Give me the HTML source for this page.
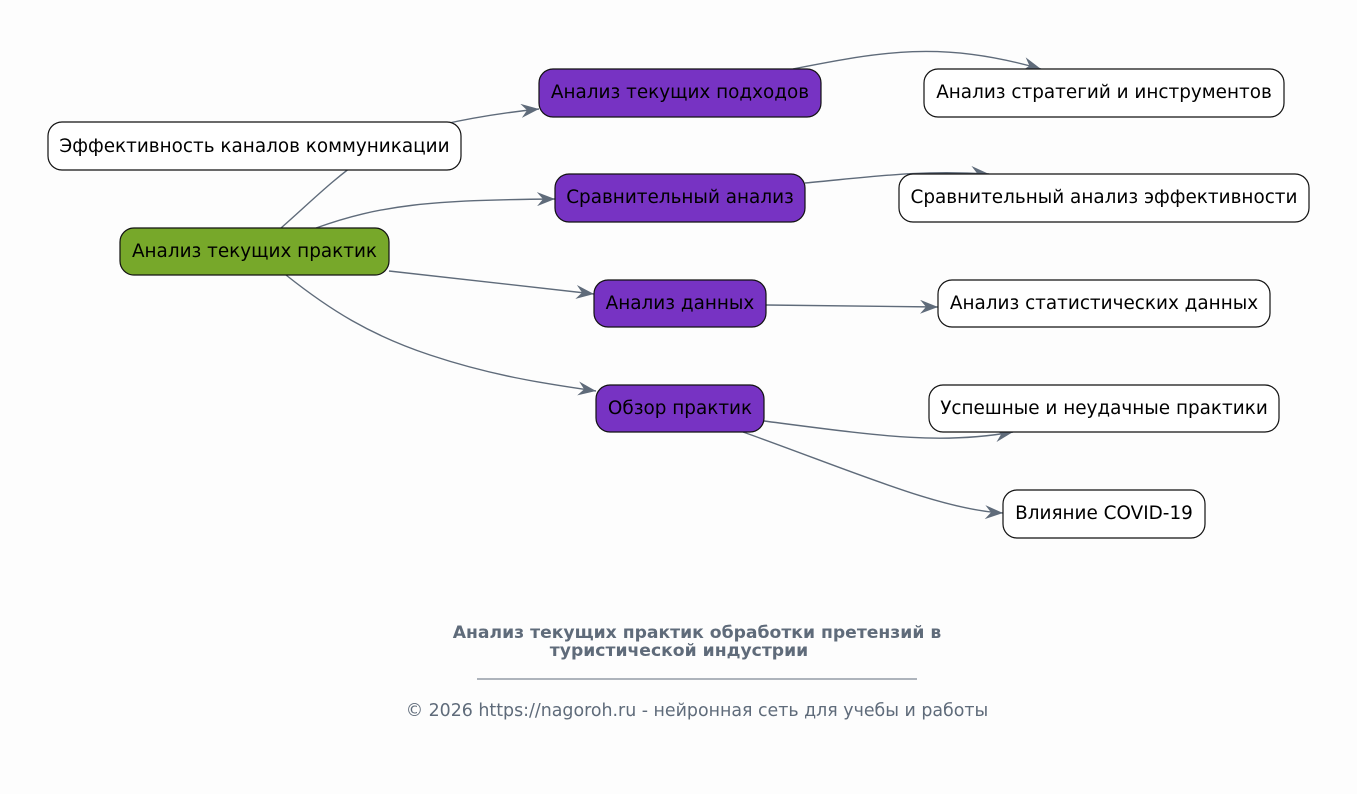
<!DOCTYPE html>
<html><head><meta charset="utf-8"><style>
html,body{margin:0;padding:0;background:#fdfdfd;}
svg{display:block;}
text{font-family:"DejaVu Sans","Liberation Sans",sans-serif;}
</style></head><body>
<svg width="1357" height="794" viewBox="0 0 1357 794" xmlns="http://www.w3.org/2000/svg">
<rect width="1357" height="794" fill="#fdfdfd"/>
<defs>
<marker id="a" markerWidth="20" markerHeight="14" refX="18" refY="7" orient="auto" markerUnits="userSpaceOnUse">
<path d="M0,0 L18,7 L0,14 L6,7 Z" fill="#5f6b7a"/>
</marker>
</defs>
<g fill="none" stroke="#5f6b7a" stroke-width="1.4" marker-end="url(#a)">
<path d="M281,228 C330,185 370,140 440,125 C480,116 510,112 539,109"/>
<path d="M316,228 C380,205 430,200 555,199"/>
<path d="M389,271 L594,294"/>
<path d="M286,275 C330,310 370,335 430,355 C490,375 540,383 596,391"/>
<path d="M793,69 C880,52 940,40 1041,69"/>
<path d="M805,183 C880,176 920,170 989,174"/>
<path d="M766,305 L938,307"/>
<path d="M764,421 C880,436 940,445 1013,432"/>
<path d="M743,432 C850,470 940,510 1003,513"/>
</g>
<g stroke="#111" stroke-width="1.2">
<rect x="48" y="122" width="413" height="48" rx="14" fill="#fff"/>
<rect x="120" y="228" width="269" height="47" rx="14" fill="#77a82a"/>
<rect x="539" y="69" width="282" height="48" rx="14" fill="#7733c3"/>
<rect x="555" y="174" width="250" height="48" rx="14" fill="#7733c3"/>
<rect x="594" y="280" width="172" height="47" rx="14" fill="#7733c3"/>
<rect x="596" y="385" width="168" height="47" rx="14" fill="#7733c3"/>
<rect x="924" y="69" width="360" height="48" rx="14" fill="#fff"/>
<rect x="899" y="174" width="410" height="48" rx="14" fill="#fff"/>
<rect x="938" y="280" width="332" height="47" rx="14" fill="#fff"/>
<rect x="929" y="385" width="350" height="47" rx="14" fill="#fff"/>
<rect x="1003" y="490" width="202" height="48" rx="14" fill="#fff"/>
</g>
<g font-size="18.4" fill="#000" text-anchor="middle">
<text x="254.5" y="152">Эффективность каналов коммуникации</text>
<text x="254.5" y="257">Анализ текущих практик</text>
<text x="680" y="98">Анализ текущих подходов</text>
<text x="680" y="203">Сравнительный анализ</text>
<text x="680" y="309">Анализ данных</text>
<text x="680" y="414">Обзор практик</text>
<text x="1104" y="98">Анализ стратегий и инструментов</text>
<text x="1104" y="203">Сравнительный анализ эффективности</text>
<text x="1104" y="309">Анализ статистических данных</text>
<text x="1104" y="414">Успешные и неудачные практики</text>
<text x="1104" y="519">Влияние COVID-19</text>
</g>
<g fill="#5f6b7a" text-anchor="middle">
<text x="697" y="638" font-size="17.2" font-weight="bold">Анализ текущих практик обработки претензий в</text>
<text x="679" y="656" font-size="17.2" font-weight="bold">туристической индустрии</text>
<line x1="477" y1="679" x2="917" y2="679" stroke="#5f6b7a" stroke-width="1"/>
<text x="697" y="716" font-size="17.4">© 2026 https://nagoroh.ru - нейронная сеть для учебы и работы</text>
</g>
</svg>
</body></html>
